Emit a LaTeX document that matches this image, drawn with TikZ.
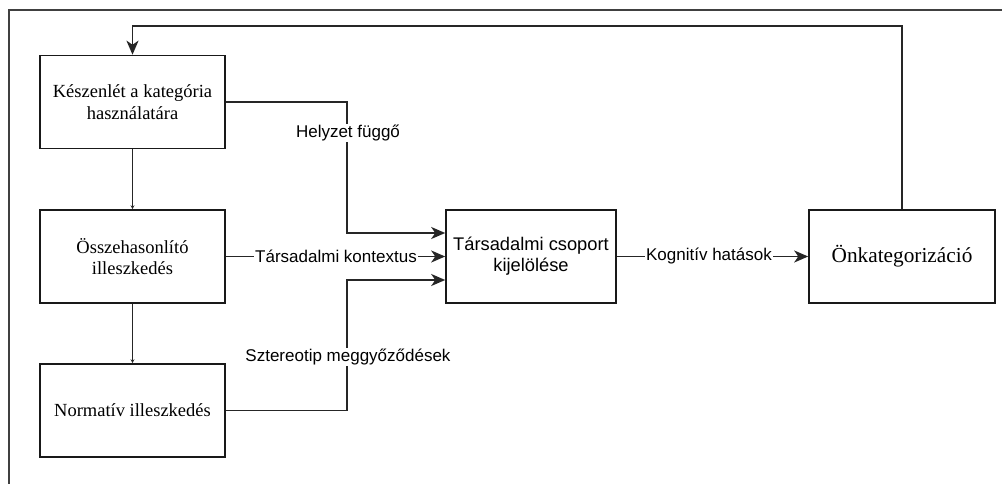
\documentclass[tikz,border=0pt]{standalone}
\usepackage{fontspec}
\setmainfont{Liberation Serif}
\newfontfamily\arialf{Liberation Sans}
\usetikzlibrary{arrows.meta}
\tikzset{
  box/.style={draw=black!90, line width=1.6pt, minimum width=185pt, minimum height=93pt, align=center, inner sep=2pt,
    font=\fontsize{18.5}{21.5}\selectfont},
  cbox/.style={box, minimum width=170pt, font=\arialf\fontsize{18.3}{20.7}\selectfont},
  obox/.style={box, minimum width=186pt, font=\fontsize{21.3}{24}\selectfont},
  lbl/.style={fill=white, inner sep=1pt, font=\arialf\fontsize{17}{20}\selectfont},
  conn/.style={draw=black!85, line width=1.5pt},
  arr/.style={conn, -{Stealth[length=14pt,width=12pt,inset=4pt]}},
  sarr/.style={conn, -{Stealth[length=4pt,width=4pt]}},
}
\begin{document}
\begin{tikzpicture}[x=1pt,y=-1pt]
\useasboundingbox (0,0) rectangle (1002,484);
\fill[white] (0,0) rectangle (1002,484);
% outer frame (left and top edges only visible)
\draw[black!75, line width=1.6pt] (9,484) -- (9,10) -- (1002,10);

\node[box] (b1) at (132.5,102) {Készenlét a kategória\\használatára};
\node[box] (b2) at (132.5,256.5) {Összehasonlító\\illeszkedés};
\node[box] (b3) at (132.5,410.5) {Normatív illeszkedés};
\node[cbox] (tc) at (531,256.5) {Társadalmi csoport\\kijelölése};
\node[obox] (ok) at (902,256.5) {Önkategorizáció};

\coordinate (j1) at (347,102);
\coordinate (j3) at (347,410.5);
\coordinate (fb) at (902,26);

\draw[sarr] (b1.south) -- (b2.north);
\draw[sarr] (b2.south) -- (b3.north);
\draw[arr] (b1.east) -- (j1) |- ([yshift=23.5pt]tc.west);
\draw[arr] (b2.east) -- (tc.west);
\draw[arr] (b3.east) -- (j3) |- ([yshift=-23.5pt]tc.west);
\draw[arr] (tc.east) -- (ok.west);
\draw[arr] (ok.north) -- (fb) -| (b1.north);

\node[lbl] (l1) at (348,133) {Helyzet függő};
\node[lbl] (l2) at (336,256) {Társadalmi kontextus};
\node[lbl] (l3) at (348,357) {Sztereotip meggyőződések};
\node[lbl] (l4) at (709,256) {Kognitív hatások};
\end{tikzpicture}
\end{document}
